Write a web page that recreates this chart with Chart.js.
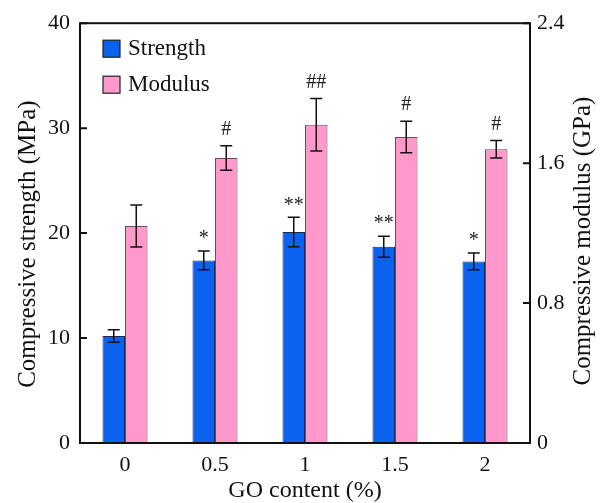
<!DOCTYPE html>
<html>
<head>
<meta charset="utf-8">
<title>GO content</title>
<script src="https://cdn.jsdelivr.net/npm/chart.js@4/dist/chart.umd.min.js"></script>
<style>
  body { margin: 0; background: #fff; }
  #wrap { width: 602px; height: 503px; }
</style>
</head>
<body>
<div id="wrap"><canvas id="grafica" width="602" height="503"></canvas></div>
<script>
// datos
const categorias = ['0', '0.5', '1', '1.5', '2'];
const resistencia = [10.2, 17.4, 20.1, 18.7, 17.3];      // MPa
const resistenciaErr = [0.6, 0.9, 1.4, 1.0, 0.8];
const modulo = [1.24, 1.63, 1.82, 1.75, 1.68];           // GPa
const moduloErr = [0.12, 0.07, 0.15, 0.09, 0.05];
const marcasResistencia = ['', '*', '**', '**', '*'];
const marcasModulo = ['', '#', '##', '#', '#'];
const ticksIzq = [0, 10, 20, 30, 40];
const ticksDer = [0, 0.8, 1.6, 2.4];

const fuente = '"Liberation Serif", "Times New Roman", serif';
const azul = '#0a62ee';
const rosa = '#ff99cc';

// barras de error + asteriscos
const errores = {
  id: 'errores',
  afterDatasetsDraw(chart) {
    const ctx = chart.ctx;
    const extra = [
      { err: resistenciaErr, marcas: marcasResistencia, eje: 'y' },
      { err: moduloErr, marcas: marcasModulo, eje: 'y1' }
    ];
    ctx.save();
    chart.data.datasets.forEach((ds, i) => {
      const meta = chart.getDatasetMeta(i);
      const escala = chart.scales[extra[i].eje];
      meta.data.forEach((bar, j) => {
        const v = ds.data[j];
        const e = extra[i].err[j];
        const yA = escala.getPixelForValue(v + e);
        const yB = escala.getPixelForValue(v - e);
        ctx.strokeStyle = '#111';
        ctx.lineWidth = 1.5;
        ctx.beginPath();
        ctx.moveTo(bar.x, yA); ctx.lineTo(bar.x, yB);
        ctx.moveTo(bar.x - 6, yA); ctx.lineTo(bar.x + 6, yA);
        ctx.moveTo(bar.x - 6, yB); ctx.lineTo(bar.x + 6, yB);
        ctx.stroke();
        const m = extra[i].marcas[j];
        if (m) {
          ctx.fillStyle = '#222';
          ctx.font = '20px ' + fuente;
          ctx.textAlign = 'center';
          ctx.textBaseline = 'bottom';
          ctx.fillText(m, bar.x, yA - (m[0] === '*' ? 2 : 6));
        }
      });
    });
    ctx.restore();
  }
};

// marco, ticks hacia dentro, leyenda y titulos verticales
const marco = {
  id: 'marco',
  afterDraw(chart) {
    const ctx = chart.ctx;
    const a = chart.chartArea;
    ctx.save();
    ctx.strokeStyle = '#111';
    ctx.lineWidth = 2;
    ctx.strokeRect(a.left, a.top, a.right - a.left, a.bottom - a.top);
    ctx.beginPath();
    ticksIzq.forEach(t => {
      const y = chart.scales.y.getPixelForValue(t);
      ctx.moveTo(a.left, y); ctx.lineTo(a.left + 7, y);
    });
    ticksDer.forEach(t => {
      const y = chart.scales.y1.getPixelForValue(t);
      ctx.moveTo(a.right, y); ctx.lineTo(a.right - 7, y);
    });
    ctx.stroke();

    // leyenda
    ctx.font = '23px ' + fuente;
    ctx.textAlign = 'left';
    ctx.textBaseline = 'middle';
    chart.data.datasets.forEach((ds, i) => {
      const y = a.top + 17 + i * 36;
      ctx.fillStyle = ds.backgroundColor;
      ctx.fillRect(a.left + 23, y, 17, 17);
      ctx.lineWidth = 1.2;
      ctx.strokeStyle = '#222';
      ctx.strokeRect(a.left + 23, y, 17, 17);
      ctx.fillStyle = '#111';
      ctx.fillText(ds.label, a.left + 48, y + 9);
    });

    // titulos de los ejes Y
    const yc = (a.top + a.bottom) / 2 + 11;
    ctx.font = '25px ' + fuente;
    ctx.textAlign = 'center';
    ctx.textBaseline = 'middle';
    ctx.fillStyle = '#111';
    ctx.translate(28, yc);
    ctx.rotate(-Math.PI / 2);
    ctx.fillText('Compressive strength (MPa)', 0, 0);
    ctx.setTransform(1, 0, 0, 1, 0, 0);
    ctx.translate(583, yc - 3);
    ctx.rotate(-Math.PI / 2);
    ctx.fillText('Compressive modulus (GPa)', 0, 0);
    ctx.restore();
  }
};

new Chart(document.getElementById('grafica').getContext('2d'), {
  type: 'bar',
  data: {
    labels: categorias,
    datasets: [
      {
        label: 'Strength',
        data: resistencia,
        yAxisID: 'y',
        backgroundColor: azul,
        borderColor: '#1a2a55',
        borderWidth: 1
      },
      {
        label: 'Modulus',
        data: modulo,
        yAxisID: 'y1',
        backgroundColor: rosa,
        borderColor: '#6a4a58',
        borderWidth: 1
      }
    ]
  },
  options: {
    responsive: false,
    animation: false,
    layout: { padding: { top: 22, left: 0, right: 0, bottom: 0 } },
    datasets: { bar: { categoryPercentage: 0.5, barPercentage: 1.0 } },
    plugins: {
      legend: { display: false },
      tooltip: { enabled: false }
    },
    scales: {
      x: {
        grid: { display: false, drawTicks: false },
        border: { display: false },
        ticks: { color: '#111', font: { family: fuente, size: 22 }, padding: 9 },
        title: {
          display: true,
          text: 'GO content (%)',
          color: '#111',
          font: { family: fuente, size: 24, lineHeight: 1 },
          padding: { top: 0, bottom: 0 }
        },
        afterFit: s => { s.height = 60; }
      },
      y: {
        position: 'left',
        min: 0,
        max: 40,
        grid: { display: false, drawTicks: false },
        border: { display: false },
        ticks: {
          stepSize: 10,
          color: '#111',
          font: { family: fuente, size: 22 },
          padding: 10
        },
        afterFit: s => { s.width = 80; }
      },
      y1: {
        position: 'right',
        min: 0,
        max: 2.4,
        grid: { display: false, drawTicks: false },
        border: { display: false },
        ticks: {
          stepSize: 0.8,
          color: '#111',
          font: { family: fuente, size: 22 },
          padding: 7,
          callback: v => ticksDer.includes(Math.round(v * 10) / 10) ? String(Math.round(v * 10) / 10) : ''
        },
        afterFit: s => { s.width = 72; }
      }
    }
  },
  plugins: [errores, marco]
});
</script>
</body>
</html>
